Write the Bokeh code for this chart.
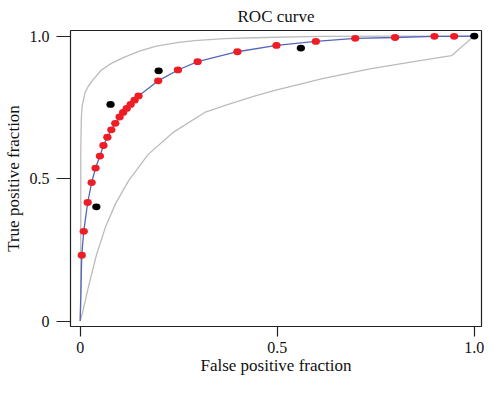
from bokeh.plotting import figure
from bokeh.models import Range1d, FixedTicker
from bokeh.embed import file_html
from bokeh.resources import INLINE

# ---- data ----
tick_vals = [0, 0.5, 1]
tick_labels = ["0", "0.5", "1.0"]

red_x = [0.004, 0.009, 0.019, 0.029, 0.039, 0.050, 0.059, 0.069, 0.079, 0.089,
         0.100, 0.109, 0.118, 0.128, 0.138, 0.148, 0.198, 0.248, 0.298, 0.399,
         0.498, 0.598, 0.698, 0.799, 0.899, 0.949]
red_y = [0.231, 0.315, 0.416, 0.486, 0.537, 0.579, 0.616, 0.645, 0.671, 0.694,
         0.716, 0.732, 0.746, 0.760, 0.775, 0.790, 0.843, 0.881, 0.910, 0.945,
         0.967, 0.981, 0.992, 0.995, 0.999, 0.999]

black_x = [0.041, 0.077, 0.199, 0.560, 1.0]
black_y = [0.401, 0.760, 0.878, 0.958, 1.0]

fit_x = [0.0] + red_x + [1.0]
fit_y = [0.0] + red_y + [1.0]

upper_x = [0.0, 0.0015, 0.0015, 0.003, 0.005, 0.012, 0.020, 0.033, 0.053, 0.080,
           0.111, 0.150, 0.193, 0.250, 0.290, 0.366, 0.440, 0.610, 0.800, 1.0]
upper_y = [0.0, 0.10, 0.60, 0.715, 0.755, 0.800, 0.823, 0.847, 0.880, 0.905,
           0.925, 0.947, 0.965, 0.978, 0.984, 0.991, 0.994, 0.999, 1.0, 1.0]

lower_x = [0.0, 0.006, 0.020, 0.041, 0.065, 0.090, 0.123, 0.172, 0.237, 0.316,
           0.366, 0.440, 0.489, 0.612, 0.735, 0.858, 0.942, 1.0]
lower_y = [0.0, 0.030, 0.115, 0.231, 0.333, 0.413, 0.493, 0.584, 0.663, 0.732,
           0.756, 0.788, 0.808, 0.850, 0.885, 0.913, 0.931, 1.0]

SERIF = "Liberation Serif"

p = figure(width=484, height=378,
           x_range=Range1d(-0.0246, 1.0184), y_range=Range1d(-0.019, 1.0195),
           output_backend="svg", toolbar_location=None, title="ROC curve",
           min_border_left=64, min_border_right=3, min_border_top=28,
           min_border_bottom=52)

p.title.align = "center"
p.title.text_font = SERIF
p.title.text_font_style = "normal"
p.title.text_font_size = "17px"
p.title.text_color = "#111111"
p.title.standoff = 9

p.background_fill_color = "white"
p.border_fill_color = "white"
p.outline_line_color = "#222222"
p.outline_line_width = 1.2
p.xgrid.visible = False
p.ygrid.visible = False

for ax in (p.xaxis[0], p.yaxis[0]):
    ax.ticker = FixedTicker(ticks=tick_vals)
    ax.major_label_overrides = dict(zip(tick_vals, tick_labels))
    ax.axis_line_color = None
    ax.major_tick_in = 0
    ax.minor_tick_line_color = None
    ax.major_tick_line_color = "#222222"
    ax.major_tick_line_width = 1.2
    ax.major_label_text_font = SERIF
    ax.major_label_text_font_size = "16px"
    ax.major_label_text_color = "#111111"
    ax.axis_label_text_font = SERIF
    ax.axis_label_text_font_style = "normal"
    ax.axis_label_text_font_size = "17px"
    ax.axis_label_text_color = "#111111"

p.xaxis.axis_label = "False positive fraction"
p.yaxis.axis_label = "True positive fraction"
p.xaxis.major_tick_out = 10
p.xaxis.major_label_standoff = 5
p.xaxis.axis_label_standoff = 0
p.yaxis.major_tick_out = 14
p.yaxis.major_label_standoff = 7
p.yaxis.axis_label_standoff = 4

p.line(upper_x, upper_y, line_color="#BBBBBB", line_width=1.3)
p.line(lower_x, lower_y, line_color="#BBBBBB", line_width=1.3)
p.line(fit_x, fit_y, line_color="#5566BB", line_width=1.3)

p.ellipse(red_x, red_y, width=8.3, height=6.8, width_units="screen",
          height_units="screen", fill_color="#EE1C25", line_color=None)
p.ellipse(black_x, black_y, width=8.3, height=6.8, width_units="screen",
          height_units="screen", fill_color="#000000", line_color=None)

open("out.html", "w").write(file_html(p, INLINE))
